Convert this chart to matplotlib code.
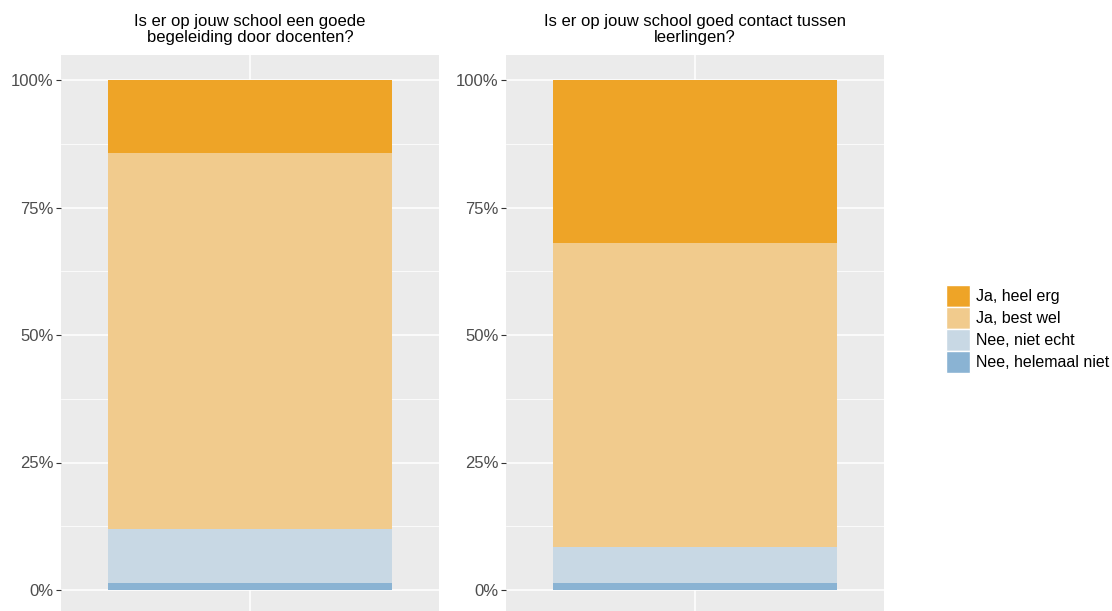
import matplotlib.pyplot as plt
from matplotlib.patches import Patch
from matplotlib.ticker import FixedLocator, FuncFormatter

plt.rcParams['font.family'] = ['Liberation Sans', 'DejaVu Sans']

# antwoordcategorieen, van onder naar boven gestapeld
categories = ["Nee, helemaal niet", "Nee, niet echt", "Ja, best wel", "Ja, heel erg"]
colors = ["#8AB3D3", "#C8D8E4", "#F1CB8D", "#EEA427"]

titles = ["Is er op jouw school een goede\nbegeleiding door docenten?",
          "Is er op jouw school goed contact tussen\nleerlingen?"]

# aandelen in procenten (zelfde volgorde als categories)
docenten = [1.4, 10.6, 73.6, 14.4]
leerlingen = [1.4, 7.0, 59.6, 32.0]
panels = [docenten, leerlingen]

y_ticks = [0, 25, 50, 75, 100]
y_minor = [12.5, 37.5, 62.5, 87.5]

fig = plt.figure(figsize=(11.12, 6.11), dpi=100)
lefts = [61 / 1112, 506 / 1112]

for left, vals, title in zip(lefts, panels, titles):
    ax = fig.add_axes([left, -4.5 / 611, 378 / 1112, 561 / 611])
    ax.set_facecolor("#EBEBEB")
    bottom = 0
    for v, c in zip(vals, colors):
        ax.bar(1, v / 100, bottom=bottom, width=0.9, color=c, zorder=3)
        bottom += v / 100
    ax.set_xlim(0.4, 1.6)
    ax.set_ylim(-0.05, 1.05)
    ax.yaxis.set_major_locator(FixedLocator([t / 100 for t in y_ticks]))
    ax.yaxis.set_minor_locator(FixedLocator([t / 100 for t in y_minor]))
    ax.yaxis.set_major_formatter(FuncFormatter(lambda y, p: f"{y * 100:.0f}%"))
    ax.set_xticks([1])
    ax.set_xticklabels([""])
    ax.grid(True, which="major", color="white", linewidth=1.1, zorder=0)
    ax.grid(True, which="minor", axis="y", color="white", linewidth=0.55, zorder=0)
    ax.tick_params(axis="y", which="major", length=3.5, color="#333333",
                   labelsize=12, labelcolor="#4D4D4D", pad=2)
    ax.tick_params(axis="y", which="minor", length=0)
    ax.tick_params(axis="x", length=0)
    for s in ax.spines.values():
        s.set_visible(False)
    ax.set_title(title, fontsize=12, color="black", pad=9, linespacing=1.05)

handles = [Patch(facecolor=c, edgecolor="white", linewidth=1) for c in colors[::-1]]
fig.legend(handles, categories[::-1], loc="center left",
           bbox_to_anchor=(940 / 1112, 1 - 329 / 611), frameon=False,
           fontsize=11.5, handlelength=1.45, handleheight=1.75,
           handletextpad=0.4, labelspacing=0.0, borderaxespad=0)

fig.savefig("out.png", dpi=100)
